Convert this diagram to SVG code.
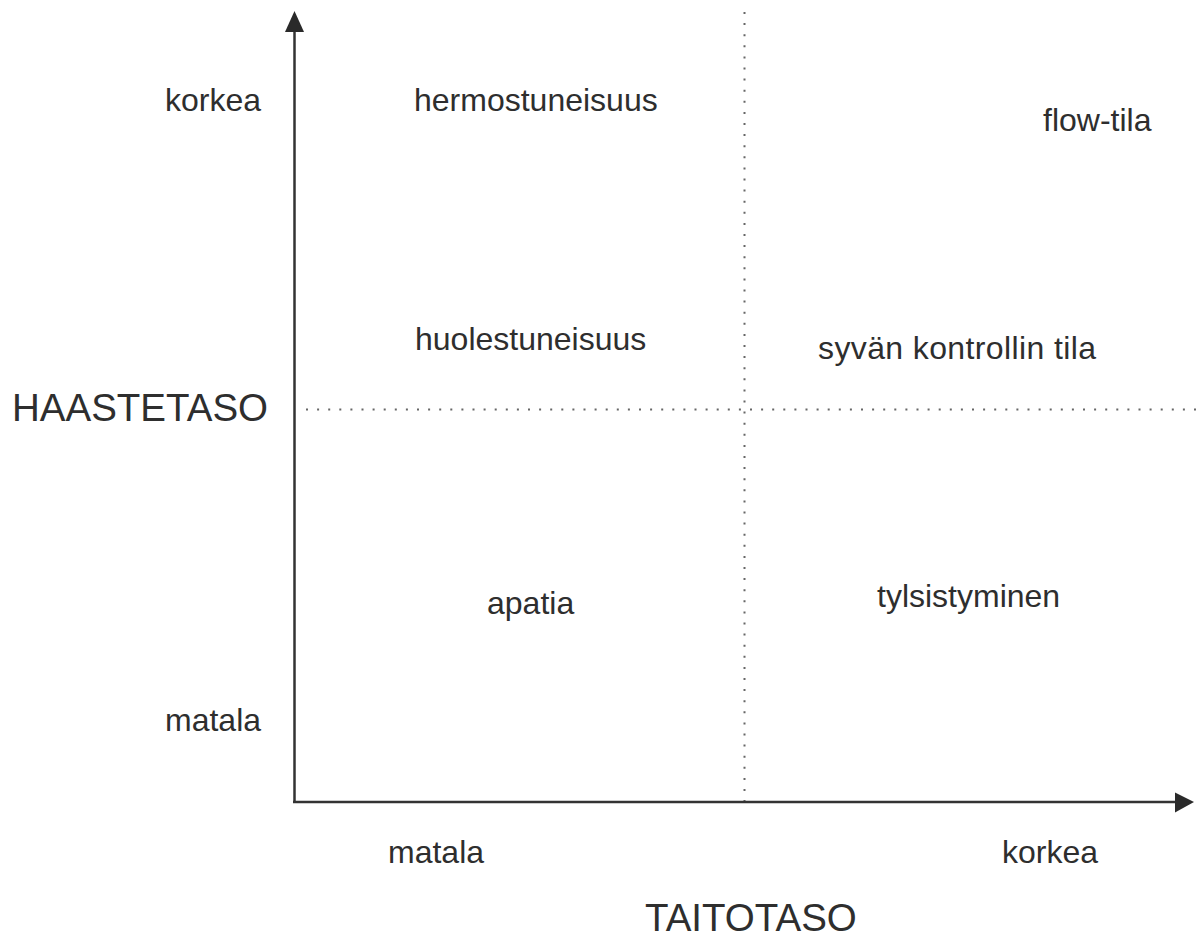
<svg xmlns="http://www.w3.org/2000/svg" width="1197" height="938" viewBox="0 0 1197 938">
  <style>
    .lbl { font-family: "Liberation Sans", Arial, sans-serif; font-size: 32px; fill: #2e2e2e; }
    .big { font-family: "Liberation Sans", Arial, sans-serif; font-size: 38.5px; fill: #2e2e2e; }
    .axis { stroke: #333; stroke-width: 2.5; fill: none; }
    .dot { stroke: #666; stroke-width: 2; fill: none; stroke-dasharray: 2 9.1; }
    .head { fill: #2a2a2a; }
  </style>
  <rect width="1197" height="938" fill="#ffffff"/>
  <g id="connectors">
    <line class="dot" x1="744.5" y1="12" x2="744.5" y2="804"/>
    <line class="dot" x1="306" y1="409.5" x2="1197" y2="409.5"/>
    <line class="axis" x1="294.5" y1="28" x2="294.5" y2="802"/>
    <line class="axis" x1="293" y1="802" x2="1180" y2="802"/>
    <polygon class="head" points="294.5,11 285,32 304,32"/>
    <polygon class="head" points="1194,802 1175,792.5 1175,812.5"/>
  </g>
  <g id="y-axis-labels">
    <text class="lbl" x="165" y="111">korkea</text>
    <text class="big" x="12" y="421">HAASTETASO</text>
    <text class="lbl" x="165" y="731">matala</text>
  </g>
  <g id="x-axis-labels">
    <text class="lbl" x="388" y="863">matala</text>
    <text class="lbl" x="1002" y="863">korkea</text>
    <text class="big" x="645" y="931">TAITOTASO</text>
  </g>
  <g id="node-hermostuneisuus"><text class="lbl" x="414" y="111">hermostuneisuus</text></g>
  <g id="node-flow-tila"><text class="lbl" x="1043" y="131">flow-tila</text></g>
  <g id="node-huolestuneisuus"><text class="lbl" x="415" y="350">huolestuneisuus</text></g>
  <g id="node-syvan-kontrollin-tila"><text class="lbl" x="818" y="359" textLength="278">syvän kontrollin tila</text></g>
  <g id="node-apatia"><text class="lbl" x="487" y="614">apatia</text></g>
  <g id="node-tylsistyminen"><text class="lbl" x="877" y="607">tylsistyminen</text></g>
</svg>
